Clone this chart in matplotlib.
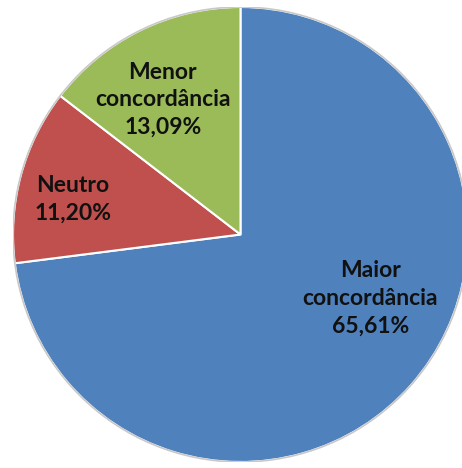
import matplotlib.pyplot as plt
from matplotlib.patches import Circle

# Dados
categorias = ['Maior\nconcordância', 'Neutro', 'Menor\nconcordância']
valores = [65.61, 11.20, 13.09]
rotulos = ['65,61%', '11,20%', '13,09%']
cores = ['#4F81BD', '#C0504D', '#9BBB59']

# posições dos rótulos (coordenadas do eixo, raio = 1)
pos_rotulos = [(0.57, -0.28), (-0.737, 0.154), (-0.342, 0.592)]

fig = plt.figure(figsize=(4.62, 4.68), dpi=100)
ax = fig.add_axes([13 / 462, 6 / 468, 455 / 462, 455 / 468])

wedges, _ = ax.pie(valores, colors=cores, startangle=90, counterclock=False,
                   radius=1, wedgeprops=dict(edgecolor='white', linewidth=1.5))

# borda externa cinza clara
ax.add_patch(Circle((0, 0), 1, fill=False, edgecolor='#c8c8c8', linewidth=1.2))

for cat, rot, (x, y) in zip(categorias, rotulos, pos_rotulos):
    ax.text(x, y, f'{cat}\n{rot}', ha='center', va='center', fontsize=16.5,
            fontfamily='Lato', fontweight='bold', color='#111111', linespacing=1.4)

ax.set_xlim(-1, 1)
ax.set_ylim(-1, 1)
ax.set_aspect('equal')
ax.axis('off')

plt.savefig('out.png', dpi=100)
